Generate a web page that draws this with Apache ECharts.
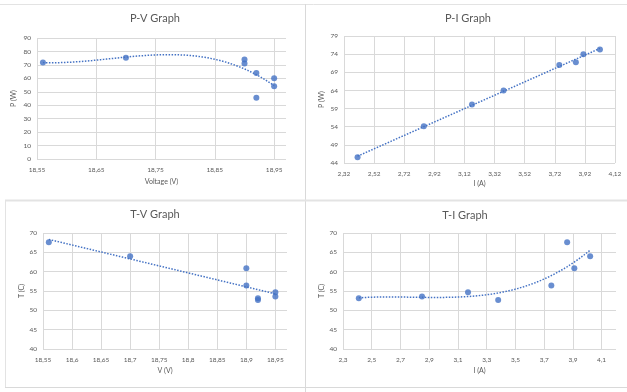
<!DOCTYPE html>
<html><head><meta charset="utf-8">
<script src="https://cdn.jsdelivr.net/npm/echarts@6/dist/echarts.min.js"></script>
<style>html,body{margin:0;padding:0;background:#fff}#c{width:627px;height:392px}</style>
</head><body><div id="c"></div>
<script>
// ---- data ----
const voltage     = [18.56, 18.70, 18.90, 18.90, 18.92, 18.92, 18.95, 18.95];
const current     = [3.86, 4.02, 3.91, 3.75, 2.41, 3.38, 2.85, 3.17];
const power       = [71.8, 75.3, 74.0, 71.0, 45.6, 64.0, 54.1, 60.1];
const temperature = [67.6, 64.0, 60.9, 56.4, 53.1, 52.7, 53.6, 54.7];

const titles = ['P-V Graph', 'P-I Graph', 'T-V Graph', 'T-I Graph'];
const xNames = ['Voltage (V)', 'I (A)', 'V (V)', 'I (A)'];
const yNames = ['P (W)', 'P (W)', 'T (C)', 'T (C)'];

const pvXTicks = [18.55, 18.65, 18.75, 18.85, 18.95];
const piXTicks = [2.32, 2.52, 2.72, 2.92, 3.12, 3.32, 3.52, 3.72, 3.92, 4.12];
const tvXTicks = [18.55, 18.6, 18.65, 18.7, 18.75, 18.8, 18.85, 18.9, 18.95];
const tiXTicks = [2.3, 2.5, 2.7, 2.9, 3.1, 3.3, 3.5, 3.7, 3.9, 4.1];
const pvYTicks = [0, 10, 20, 30, 40, 50, 60, 70, 80, 90];
const piYTicks = [44, 49, 54, 59, 64, 69, 74, 79];
const tYTicks  = [40, 45, 50, 55, 60, 65, 70];

const trendOrders = [3, 1, 1, 3];   // Excel trendline types: poly3, linear, linear, poly3

// ---- least-squares polynomial trendline (like Excel) ----
function polyfit(xs, ys, order) {
  const n = order + 1;
  const A = [], b = [];
  for (let i = 0; i < n; i++) {
    A.push(new Array(n).fill(0)); b.push(0);
  }
  const x0 = xs.reduce((a, c) => a + c, 0) / xs.length;
  for (let k = 0; k < xs.length; k++) {
    const t = xs[k] - x0;
    for (let i = 0; i < n; i++) {
      b[i] += ys[k] * Math.pow(t, i);
      for (let j = 0; j < n; j++) A[i][j] += Math.pow(t, i + j);
    }
  }
  for (let i = 0; i < n; i++) {
    let p = i;
    for (let r = i + 1; r < n; r++) if (Math.abs(A[r][i]) > Math.abs(A[p][i])) p = r;
    [A[i], A[p]] = [A[p], A[i]]; [b[i], b[p]] = [b[p], b[i]];
    for (let r = i + 1; r < n; r++) {
      const f = A[r][i] / A[i][i];
      for (let c = i; c < n; c++) A[r][c] -= f * A[i][c];
      b[r] -= f * b[i];
    }
  }
  const coef = new Array(n).fill(0);
  for (let i = n - 1; i >= 0; i--) {
    let s = b[i];
    for (let c = i + 1; c < n; c++) s -= A[i][c] * coef[c];
    coef[i] = s / A[i][i];
  }
  return x => { const t = x - x0; let s = 0; for (let i = 0; i < n; i++) s += coef[i] * Math.pow(t, i); return s; };
}
function trend(xs, ys, order) {
  const f = polyfit(xs, ys, order);
  const lo = Math.min(...xs), hi = Math.max(...xs);
  const out = [];
  const steps = 80;
  for (let i = 0; i <= steps; i++) { const x = lo + (hi - lo) * i / steps; out.push([x, f(x)]); }
  return out;
}
const pairs = (xs, ys) => xs.map((x, i) => [x, ys[i]]);

const sets = [
  { x: voltage, y: power },
  { x: current, y: power },
  { x: voltage, y: temperature },
  { x: current, y: temperature }
];

const FONT = 'Lato';
const TXT = '#595959';
const GRIDC = '#d9d9d9';
const BLUE = '#4472C4';

const grids = [
  { left: 37,  top: 38,  width: 249, height: 121 },
  { left: 344, top: 36,  width: 271, height: 127 },
  { left: 43,  top: 233, width: 244, height: 116 },
  { left: 343, top: 233, width: 273, height: 116 }
];
const xRanges = [[18.55, 18.97], [2.32, 4.12], [18.55, 18.97], [2.3, 4.2]];
const yRanges = [[0, 90], [44, 79], [40, 70], [40, 70]];
const xTicks = [pvXTicks, piXTicks, tvXTicks, tiXTicks];
const yTicks = [pvYTicks, piYTicks, tYTicks, tYTicks];
const xNameGaps = [19, 17, 18, 18];
const yNameGaps = [20, 19, 18, 18];
const titlePos = [[155, 13], [468, 13], [155, 209], [465, 210]];

const fmt = v => String(v).replace('.', ',');

const option = {
  animation: false,
  backgroundColor: '#fff',
  textStyle: { fontFamily: FONT },
  title: titles.map((t, i) => ({
    text: t, left: titlePos[i][0], top: titlePos[i][1], textAlign: 'center', padding: 0,
    textStyle: { fontFamily: FONT, fontSize: 11, fontWeight: 'normal', color: TXT }
  })),
  grid: grids.map(g => Object.assign({ containLabel: false }, g)),
  xAxis: grids.map((g, i) => ({
    type: 'value', gridIndex: i, min: xRanges[i][0], max: xRanges[i][1],
    name: xNames[i], nameLocation: 'middle', nameGap: xNameGaps[i],
    nameTextStyle: { fontFamily: FONT, fontSize: 7, color: TXT },
    axisLine: { show: false },
    axisTick: { show: false, customValues: xTicks[i] },
    axisLabel: { customValues: xTicks[i], formatter: fmt, fontFamily: FONT, fontSize: 6.5, color: TXT, margin: 7 },
    splitLine: { show: true, lineStyle: { color: GRIDC, width: 1 } }
  })),
  yAxis: grids.map((g, i) => ({
    type: 'value', gridIndex: i, min: yRanges[i][0], max: yRanges[i][1],
    name: yNames[i], nameLocation: 'middle', nameGap: yNameGaps[i],
    nameTextStyle: { fontFamily: FONT, fontSize: 7, color: TXT },
    axisLine: { show: false },
    axisTick: { show: false, customValues: yTicks[i] },
    axisLabel: { customValues: yTicks[i], formatter: fmt, fontFamily: FONT, fontSize: 6.5, color: TXT, margin: 6 },
    splitLine: { show: true, lineStyle: { color: GRIDC, width: 1 } }
  })),
  series: [].concat(...sets.map((s, i) => [
    {
      type: 'line', xAxisIndex: i, yAxisIndex: i, data: trend(s.x, s.y, trendOrders[i]),
      showSymbol: false, symbol: 'none', silent: true, z: 1,
      lineStyle: { color: BLUE, width: 1.5, type: [1.5, 1.5] }
    },
    {
      type: 'scatter', xAxisIndex: i, yAxisIndex: i, data: pairs(s.x, s.y),
      symbolSize: 6, itemStyle: { color: BLUE }, z: 2
    }
  ])),
  graphic: [
    { type: 'line', shape: { x1: 0, y1: 4.5, x2: 627, y2: 4.5 }, style: { stroke: '#e3e3e3', lineWidth: 1 }, silent: true },
    { type: 'line', shape: { x1: 305.5, y1: 4, x2: 305.5, y2: 392 }, style: { stroke: '#d9d9d9', lineWidth: 1 }, silent: true },
    { type: 'line', shape: { x1: 5, y1: 200.5, x2: 627, y2: 200.5 }, style: { stroke: '#e3e3e3', lineWidth: 2 }, silent: true },
    { type: 'line', shape: { x1: 5.5, y1: 200, x2: 5.5, y2: 387 }, style: { stroke: '#e3e3e3', lineWidth: 1 }, silent: true },
    { type: 'line', shape: { x1: 5, y1: 387.5, x2: 627, y2: 387.5 }, style: { stroke: '#d9d9d9', lineWidth: 1 }, silent: true }
  ]
};

const chart = echarts.init(document.getElementById('c'), null, { renderer: 'canvas' });
chart.setOption(option);
</script>
</body></html>
